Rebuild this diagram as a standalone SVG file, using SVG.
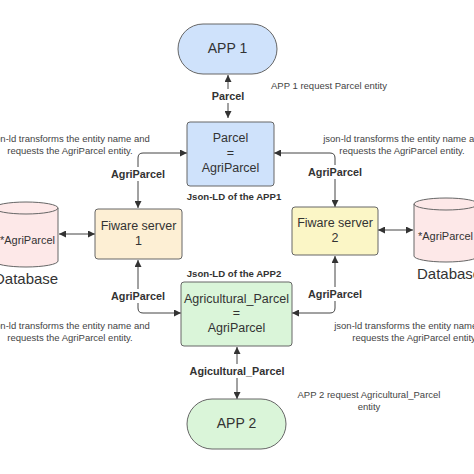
<svg xmlns="http://www.w3.org/2000/svg" width="474" height="474" viewBox="0 0 474 474">
<defs>
<style>
.t{font-family:"Liberation Sans",Arial,sans-serif;fill:#333;}
.big{font-size:12.5px;text-anchor:middle;}
.lbl{font-size:10.8px;font-weight:bold;text-anchor:middle;}
.jl{font-size:9.6px;font-weight:bold;text-anchor:middle;}
.note{font-size:9.5px;text-anchor:middle;fill:#444;}
.box{stroke:#666;stroke-width:1;}
.con{fill:none;stroke:#444;stroke-width:1;}
</style>
<marker id="ah" viewBox="0 0 10 10" refX="10" refY="5" markerWidth="9" markerHeight="7" markerUnits="userSpaceOnUse" orient="auto-start-reverse">
<path d="M0,0 L10,5 L0,10 Z" fill="#333"/>
</marker>
</defs>
<rect width="474" height="474" fill="#fff"/>

<g id="connectors">
<path class="con" d="M228,75 V118" marker-start="url(#ah)" marker-end="url(#ah)"/>
<path class="con" d="M138,208 V158 Q138,153 143,153 H187" marker-start="url(#ah)" marker-end="url(#ah)"/>
<path class="con" d="M335,207 V158 Q335,153 330,153 H274" marker-start="url(#ah)" marker-end="url(#ah)"/>
<path class="con" d="M138,260 V308 Q138,313 143,313 H181" marker-start="url(#ah)" marker-end="url(#ah)"/>
<path class="con" d="M335,256 V308 Q335,313 330,313 H292" marker-start="url(#ah)" marker-end="url(#ah)"/>
<path class="con" d="M237,347 V399" marker-start="url(#ah)" marker-end="url(#ah)"/>
<path class="con" d="M59,234 H95" marker-start="url(#ah)" marker-end="url(#ah)"/>
<path class="con" d="M378,230 H413" marker-start="url(#ah)" marker-end="url(#ah)"/>
<rect x="206" y="89" width="44" height="14" fill="#fff"/>
<text class="t lbl" x="228" y="100">Parcel</text>
<rect x="106" y="167" width="64" height="14" fill="#fff"/>
<text class="t lbl" x="138" y="178">AgriParcel</text>
<rect x="303" y="165" width="64" height="14" fill="#fff"/>
<text class="t lbl" x="335" y="176">AgriParcel</text>
<rect x="106" y="289" width="64" height="14" fill="#fff"/>
<text class="t lbl" x="138" y="300">AgriParcel</text>
<rect x="303" y="287" width="64" height="14" fill="#fff"/>
<text class="t lbl" x="335" y="298">AgriParcel</text>
<rect x="186" y="364" width="102" height="14" fill="#fff"/>
<text class="t lbl" x="237" y="375">Agicultural_Parcel</text>
</g>

<g id="app1">
<rect class="box" x="178" y="24" width="99" height="50" rx="25" fill="#cfe2fb"/>
<text class="t big" x="227.5" y="53" style="font-size:14px">APP 1</text>
</g>

<g id="parcel">
<rect class="box" x="187" y="122" width="87" height="64" rx="3" fill="#cfe2fb"/>
<text class="t big" x="230.5" y="142">Parcel</text>
<text class="t big" x="230.5" y="157">=</text>
<text class="t big" x="230.5" y="172">AgriParcel</text>
<text class="t jl" x="234" y="200">Json-LD of the APP1</text>
</g>

<g id="fiware1">
<rect class="box" x="95" y="209" width="87" height="50" rx="3" fill="#fdefd4"/>
<text class="t big" x="138.5" y="230">Fiware server</text>
<text class="t big" x="138.5" y="245">1</text>
</g>

<g id="fiware2">
<rect class="box" x="292" y="207" width="86" height="48" rx="3" fill="#fbf6c6"/>
<text class="t big" x="335" y="227">Fiware server</text>
<text class="t big" x="335" y="242">2</text>
</g>

<g id="agri">
<rect class="box" x="181" y="282" width="111" height="64" rx="3" fill="#daf5d9"/>
<text class="t big" x="236.5" y="303">Agricultural_Parcel</text>
<text class="t big" x="236.5" y="317">=</text>
<text class="t big" x="236.5" y="332">AgriParcel</text>
<text class="t jl" x="234" y="277">Json-LD of the APP2</text>
</g>

<g id="app2">
<rect class="box" x="187" y="399" width="99" height="50" rx="25" fill="#daf5d9"/>
<text class="t big" x="236.5" y="428" style="font-size:14px">APP 2</text>
</g>

<g id="db1">
<path class="box" d="M-6,208 A32,6 0 0 1 58,208 V261 A32,6 0 0 1 -6,261 Z" fill="#fde8e8"/>
<path class="box" d="M-6,208 A32,6 0 0 0 58,208" fill="none"/>
<text class="t" x="0" y="244" style="font-size:11px">*AgriParcel</text>
<text class="t" x="-6" y="284" style="font-size:15px">Database</text>
</g>

<g id="db2">
<path class="box" d="M414,204 A32,6 0 0 1 478,204 V256 A32,6 0 0 1 414,256 Z" fill="#fde8e8"/>
<path class="box" d="M414,204 A32,6 0 0 0 478,204" fill="none"/>
<text class="t" x="418" y="240" style="font-size:11px">*AgriParcel</text>
<text class="t" x="417" y="279" style="font-size:15px">Database</text>
</g>

<g id="notes">
<text class="t" x="271" y="89" style="font-size:9.5px;fill:#444">APP 1 request Parcel entity</text>
<text class="t note" x="69" y="142">json-ld transforms the entity name and</text>
<text class="t note" x="70" y="154">requests the AgriParcel entity.</text>
<text class="t note" x="404" y="142">json-ld transforms the entity name and</text>
<text class="t note" x="402" y="154">requests the AgriParcel entity.</text>
<text class="t note" x="69" y="329">json-ld transforms the entity name and</text>
<text class="t note" x="70" y="341">requests the AgriParcel entity.</text>
<text class="t note" x="415" y="329">json-ld transforms the entity name and</text>
<text class="t note" x="415" y="341">requests the AgriParcel entity.</text>
<text class="t note" x="369" y="398">APP 2 request Agricultural_Parcel</text>
<text class="t note" x="369" y="410">entity</text>
</g>
</svg>
